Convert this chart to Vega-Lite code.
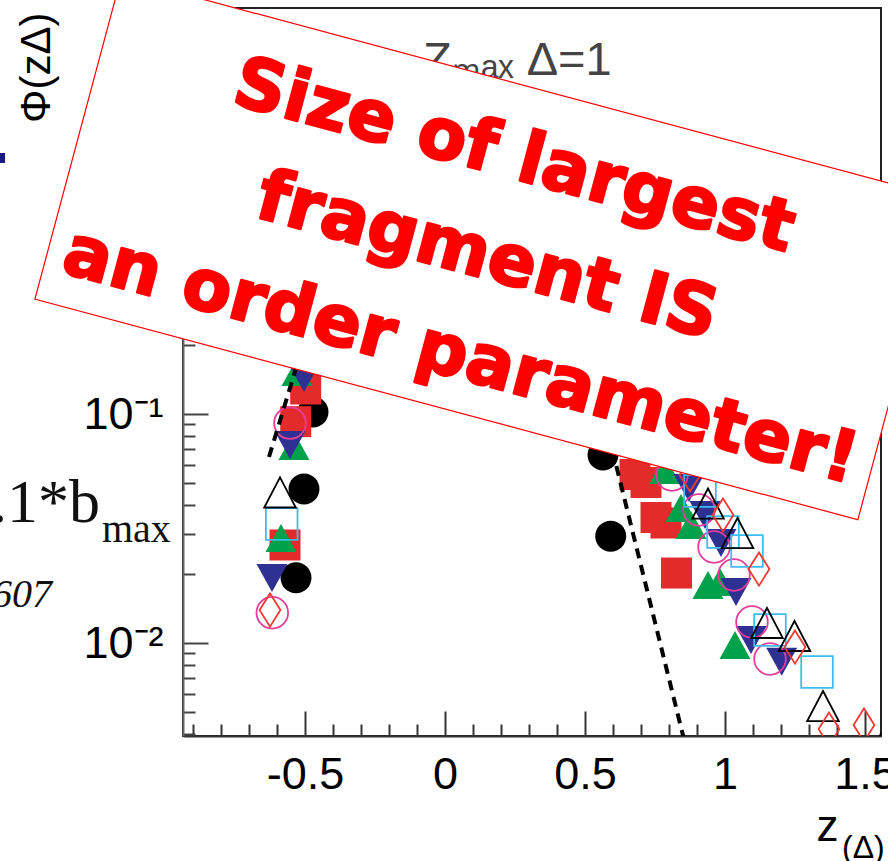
{
  "$schema": "https://vega.github.io/schema/vega-lite/v6.json",
  "width": 698,
  "height": 728,
  "autosize": {"type": "none"},
  "padding": {"left": 183, "top": 8, "right": 7, "bottom": 125},
  "background": "white",
  "config": {"view": {"stroke": "#222222", "strokeWidth": 2}},
  "datasets": {
    "points": [
      {"x": -0.4714, "y": 0.1020, "series": "s1"},
      {"x": -0.5036, "y": 0.04706, "series": "s1"},
      {"x": -0.5321, "y": 0.01928, "series": "s1"},
      {"x": 0.5643, "y": 0.0662, "series": "s1"},
      {"x": 0.5918, "y": 0.02923, "series": "s1"},
      {"x": -0.4975, "y": 0.1286, "series": "s2"},
      {"x": -0.5332, "y": 0.0926, "series": "s2"},
      {"x": -0.5714, "y": 0.02679, "series": "s2"},
      {"x": 0.6786, "y": 0.05443, "series": "s2"},
      {"x": 0.7179, "y": 0.05022, "series": "s2"},
      {"x": 0.7536, "y": 0.03532, "series": "s2"},
      {"x": 0.7893, "y": 0.03342, "series": "s2"},
      {"x": 0.8268, "y": 0.02021, "series": "s2"},
      {"x": -0.5286, "y": 0.1526, "series": "s3"},
      {"x": -0.5393, "y": 0.0725, "series": "s3"},
      {"x": -0.5857, "y": 0.02874, "series": "s3"},
      {"x": 0.7857, "y": 0.05694, "series": "s3"},
      {"x": 0.8429, "y": 0.03886, "series": "s3"},
      {"x": 0.8786, "y": 0.03276, "series": "s3"},
      {"x": 0.9393, "y": 0.01792, "series": "s3"},
      {"x": 0.9821, "y": 0.01847, "series": "s3"},
      {"x": 1.0357, "y": 0.009802, "series": "s3"},
      {"x": -0.5036, "y": 0.1436, "series": "s4"},
      {"x": -0.5536, "y": 0.0732, "series": "s4"},
      {"x": -0.6179, "y": 0.01922, "series": "s4"},
      {"x": 0.8714, "y": 0.04753, "series": "s4"},
      {"x": 0.9286, "y": 0.03622, "series": "s4"},
      {"x": 0.9857, "y": 0.02733, "series": "s4"},
      {"x": 1.0393, "y": 0.0167, "series": "s4"},
      {"x": 1.0929, "y": 0.01031, "series": "s4"},
      {"x": 1.2025, "y": 0.008288, "series": "s4"},
      {"x": -0.5536, "y": 0.0913, "series": "s5"},
      {"x": -0.6168, "y": 0.01356, "series": "s5"},
      {"x": 0.8107, "y": 0.05416, "series": "s5"},
      {"x": 0.9071, "y": 0.03809, "series": "s5"},
      {"x": 0.9607, "y": 0.02625, "series": "s5"},
      {"x": 1.0321, "y": 0.01981, "series": "s5"},
      {"x": 1.0964, "y": 0.01235, "series": "s5"},
      {"x": 1.1607, "y": 0.008514, "series": "s5"},
      {"x": -0.5832, "y": 0.03309, "series": "s6"},
      {"x": 0.9107, "y": 0.04612, "series": "s6"},
      {"x": 0.9929, "y": 0.03053, "series": "s6"},
      {"x": 1.0786, "y": 0.02522, "series": "s6"},
      {"x": 1.1607, "y": 0.0114, "series": "s6"},
      {"x": 1.3286, "y": 0.00747, "series": "s6"},
      {"x": -0.5893, "y": 0.04544, "series": "s7"},
      {"x": 0.9393, "y": 0.04066, "series": "s7"},
      {"x": 1.0446, "y": 0.03022, "series": "s7"},
      {"x": 1.15, "y": 0.01223, "series": "s7"},
      {"x": 1.2482, "y": 0.01073, "series": "s7"},
      {"x": 1.35, "y": 0.005307, "series": "s7"},
      {"x": 1.607, "y": 0.00452, "series": "s7"},
      {"x": -0.625, "y": 0.01393, "series": "s8"},
      {"x": 0.875, "y": 0.05416, "series": "s8"},
      {"x": 0.9929, "y": 0.03622, "series": "s8"},
      {"x": 1.1214, "y": 0.02103, "series": "s8"},
      {"x": 1.25, "y": 0.009605, "series": "s8"},
      {"x": 1.3714, "y": 0.004211, "series": "s8"},
      {"x": 1.4964, "y": 0.004384, "series": "s8"}
    ],
    "lines": [
      {"x": -0.6286, "y": 0.0649, "line": "left"},
      {"x": -0.5179, "y": 0.181, "line": "left"},
      {"x": 0.5536, "y": 0.1151, "line": "right"},
      {"x": 0.875, "y": 0.00297, "line": "right"}
    ]
  },
  "encoding": {
    "x": {
      "field": "x",
      "type": "quantitative",
      "scale": {"domain": [-0.935714, 1.557143], "nice": false, "zero": false},
      "axis": {
        "title": "z",
        "zindex": 0,
        "grid": false,
        "values": [-0.9, -0.8, -0.7, -0.6, -0.5, -0.4, -0.3, -0.2, -0.1, 0, 0.1, 0.2, 0.3, 0.4, 0.5, 0.6, 0.7, 0.8, 0.9, 1, 1.1, 1.2, 1.3, 1.4, 1.5],
        "labelExpr": "datum.value == -0.5 ? '-0.5' : datum.value == 0 ? '0' : datum.value == 0.5 ? '0.5' : datum.value == 1 ? '1' : datum.value == 1.5 ? '1.5' : ''",
        "tickSize": {"condition": {"test": "datum.value == -0.5 || datum.value == 0 || datum.value == 0.5 || datum.value == 1 || datum.value == 1.5", "value": -25}, "value": -12},
        "tickColor": "#333333",
        "tickWidth": 2,
        "domainColor": "#333333",
        "domainWidth": 2,
        "labelFont": "Liberation Sans",
        "labelFontSize": 45,
        "labelColor": "#000000",
        "labelPadding": 41,
        "labelOverlap": false,
        "labelFlush": false,
        "labelBound": false,
        "titleFont": "Liberation Sans",
        "titleFontSize": 44,
        "titleFontWeight": "normal",
        "titleColor": "#000000",
        "titleAnchor": "end",
        "titleAlign": "right",
        "titleBaseline": "alphabetic",
        "titleX": 655,
        "titleY": 104
      }
    },
    "y": {
      "field": "y",
      "type": "quantitative",
      "scale": {"type": "log", "domain": [0.0039258, 5.9289], "nice": false},
      "axis": {
        "title": "Φ(zΔ)",
        "zindex": 0,
        "grid": false,
        "values": [0.004, 0.005, 0.006, 0.007, 0.008, 0.009, 0.01, 0.02, 0.03, 0.04, 0.05, 0.06, 0.07, 0.08, 0.09, 0.1, 0.2, 0.3, 0.4, 0.5, 0.6, 0.7, 0.8, 0.9, 1, 2, 3, 4, 5],
        "labelExpr": "datum.value == 0.01 ? '10⁻²' : datum.value == 0.1 ? '10⁻¹' : datum.value == 1 ? '1' : ''",
        "tickSize": {"condition": {"test": "datum.value == 0.01 || datum.value == 0.1 || datum.value == 1", "value": -25}, "value": -12},
        "tickColor": "#444444",
        "tickWidth": 2,
        "domainColor": "#666666",
        "domainWidth": 2,
        "labelFont": "Liberation Sans",
        "labelFontSize": 45,
        "labelColor": "#000000",
        "labelPadding": 45,
        "labelOverlap": false,
        "labelFlush": false,
        "labelBound": false,
        "titleFont": "Liberation Sans",
        "titleFontSize": 42,
        "titleFontWeight": "normal",
        "titleColor": "#000000",
        "titleAngle": 270,
        "titleAnchor": "end",
        "titleAlign": "right",
        "titleBaseline": "middle",
        "titleX": -147,
        "titleY": 4
      }
    }
  },
  "layer": [
    {
      "data": {"name": "points"},
      "transform": [{"filter": "indexof(['s1','s2','s3','s4'], datum.series) >= 0"}],
      "mark": {"type": "point", "filled": true, "size": 960, "opacity": 1, "clip": true},
      "encoding": {
        "shape": {"field": "series", "type": "nominal", "legend": null, "scale": {"domain": ["s1", "s2", "s3", "s4", "s5", "s6", "s7", "s8"], "range": ["M1,0 A1,1 0 1,1 -1,0 A1,1 0 1,1 1,0 Z", "M-1,-1 L1,-1 L1,1 L-1,1 Z", "M0,-0.9 L1,0.9 L-1,0.9 Z", "M0,0.9 L1,-0.9 L-1,-0.9 Z", "M1,0 A1,1 0 1,1 -1,0 A1,1 0 1,1 1,0 Z", "M-1,-1 L1,-1 L1,1 L-1,1 Z", "M0,-0.95 L1,0.95 L-1,0.95 Z", "M0,-1.05 L0.66,0 L0,1.05 L-0.66,0 Z"]}},
        "color": {"field": "series", "type": "nominal", "legend": null, "scale": {"domain": ["s1", "s2", "s3", "s4", "s5", "s6", "s7", "s8"], "range": ["#000000", "#e32b2b", "#00a14b", "#2e3192", "#e43d9a", "#3cbdf0", "#000000", "#ee3a33"]}}
      }
    },
    {
      "data": {"name": "points"},
      "transform": [{"filter": "indexof(['s5','s6','s7','s8'], datum.series) >= 0"}],
      "mark": {"type": "point", "filled": false, "size": 1000, "opacity": 1, "strokeWidth": 1.8, "clip": true},
      "encoding": {
        "shape": {"field": "series", "type": "nominal", "legend": null},
        "color": {"field": "series", "type": "nominal", "legend": null}
      }
    },
    {
      "data": {"name": "lines"},
      "mark": {"type": "line", "color": "#000000", "strokeWidth": 4, "strokeDash": [10, 7], "clip": true},
      "encoding": {"detail": {"field": "line", "type": "nominal"}}
    },
    {
      "data": {"values": [{"x": -0.0786, "y": 3.022, "label": "Zₘₐₓ Δ=1"}]},
      "mark": {"type": "text", "align": "left", "baseline": "alphabetic", "font": "Liberation Sans", "fontSize": 47, "color": "#444444"},
      "encoding": {"text": {"field": "label"}}
    },
    {
      "data": {"values": [{"x": 0.1589, "y": 0.528}]},
      "mark": {"type": "point", "shape": "M-1,-0.391 L1,-0.391 L1,0.391 L-1,0.391 Z", "size": 725904, "angle": 15, "filled": true, "fill": "#ffffff", "stroke": "#ff0000", "strokeWidth": 1.2, "opacity": 1, "fillOpacity": 1, "strokeOpacity": 1, "clip": false}
    },
    {
      "data": {"values": [
        {"x": 0.2268, "y": 1.0784, "label": "Size of largest"},
        {"x": 0.1311, "y": 0.3941, "label": "fragment IS"},
        {"x": 0.0354, "y": 0.1443, "label": "an order parameter!"}
      ]},
      "mark": {"type": "text", "angle": 15, "align": "center", "baseline": "alphabetic", "font": "DejaVu Sans", "fontWeight": "bold", "fontSize": 71, "fill": "#ff0000", "stroke": "#ff0000", "strokeWidth": 2.5, "strokeJoin": "round"},
      "encoding": {"text": {"field": "label"}}
    },
    {
      "data": {"values": [{"x": -1.2321, "y": 0.03377, "label": ".1*b"}]},
      "mark": {"type": "text", "align": "right", "baseline": "alphabetic", "font": "Liberation Serif", "fontSize": 62, "color": "#111111"},
      "encoding": {"text": {"field": "label"}}
    },
    {
      "data": {"values": [{"x": -1.225, "y": 0.02761, "label": "max"}]},
      "mark": {"type": "text", "align": "left", "baseline": "alphabetic", "font": "Liberation Serif", "fontSize": 40, "color": "#111111"},
      "encoding": {"text": {"field": "label"}}
    },
    {
      "data": {"values": [{"x": -1.4036, "y": 0.01436, "label": "607"}]},
      "mark": {"type": "text", "align": "right", "baseline": "alphabetic", "font": "Liberation Serif", "fontStyle": "italic", "fontSize": 40, "color": "#111111"},
      "encoding": {"text": {"field": "label"}}
    },
    {
      "data": {"values": [{"x": -1.589, "y": 1.312}]},
      "mark": {"type": "point", "shape": "square", "size": 100, "filled": true, "color": "#1a1a80", "opacity": 1}
    },
    {
      "data": {"values": [{"x": 1.4179, "y": 0.0011506, "label": "(Δ)"}]},
      "mark": {"type": "text", "align": "left", "baseline": "alphabetic", "font": "Liberation Sans", "fontSize": 32, "color": "#000000"},
      "encoding": {"text": {"field": "label"}}
    }
  ]
}
